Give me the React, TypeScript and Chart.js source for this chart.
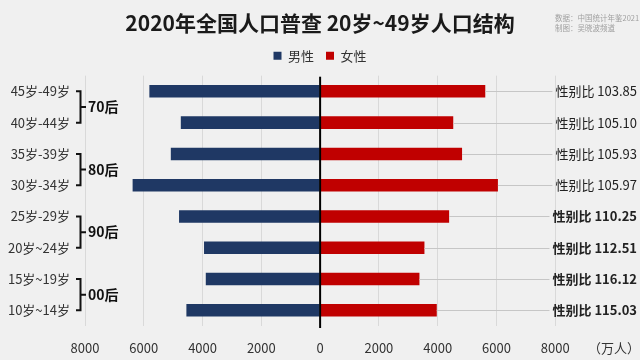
import React, { useEffect, useRef } from 'react';
import { Chart, registerables } from 'chart.js';

Chart.register(...registerables);

const titleText = '2020年全国人口普查 20岁~49岁人口结构';
const sourceLines = ['数据：中国统计年鉴2021', '制图：吴晓波频道'];
const categories = ['45岁-49岁', '40岁-44岁', '35岁-39岁', '30岁-34岁', '25岁-29岁', '20岁~24岁', '15岁~19岁', '10岁~14岁'];
const maleValues = [5810, 4740, 5080, 6380, 4800, 3950, 3890, 4550];
const femaleValues = [5620, 4530, 4830, 6050, 4390, 3550, 3380, 3970];
const sexRatios = ['103.85', '105.10', '105.93', '105.97', '110.25', '112.51', '116.12', '115.03'];
const boldRatioFrom = 4;
const groupLabels = ['70后', '80后', '90后', '00后'];
const seriesNames = ['男性', '女性'];
const xMin = -8000;
const xMax = 10000;
const xStep = 2000;
const unitLabel = '（万人）';

const FONT = '"Noto Sans CJK SC", "Noto Sans", sans-serif';
const BG = '#f0f0f0';
const NAVY = '#1f3864';
const RED = '#c00000';

const decorPlugin = {
  id: 'decor',
  beforeDraw(chart: any) {
    const { ctx, width, height } = chart;
    ctx.save();
    ctx.fillStyle = BG;
    ctx.fillRect(0, 0, width, height);
    ctx.restore();
  },
  afterDatasetsDraw(chart: any) {
    const { ctx, chartArea, scales } = chart;
    const x = scales.x;
    const y = scales.y;
    ctx.save();
    // ratio labels + connectors
    const rightEdge = chart.width - 3;
    sexRatios.forEach((r, i) => {
      const yy = y.getPixelForValue(i);
      const bold = i >= boldRatioFrom;
      ctx.font = `${bold ? 'bold ' : ''}13px ${FONT}`;
      const text = `性别比 ${r}`;
      const w = ctx.measureText(text).width;
      const x0 = x.getPixelForValue(femaleValues[i]);
      ctx.strokeStyle = '#c6c6c6';
      ctx.lineWidth = 1;
      ctx.beginPath();
      ctx.moveTo(x0, Math.round(yy) + 0.5);
      ctx.lineTo(rightEdge - w - 3, Math.round(yy) + 0.5);
      ctx.stroke();
      ctx.fillStyle = '#222';
      ctx.textAlign = 'right';
      ctx.textBaseline = 'middle';
      ctx.fillText(text, rightEdge, yy);
    });
    // zero line
    const zx = x.getPixelForValue(0);
    ctx.strokeStyle = '#000';
    ctx.lineWidth = 2;
    ctx.beginPath();
    ctx.moveTo(zx, chartArea.top + 1);
    ctx.lineTo(zx, chartArea.bottom + 2);
    ctx.stroke();
    // brackets & group labels
    groupLabels.forEach((g, gi) => {
      const yTop = y.getPixelForValue(gi * 2);
      const yBot = y.getPixelForValue(gi * 2 + 1);
      const yMid = (yTop + yBot) / 2;
      const bx = chartArea.left - 4.5;
      ctx.strokeStyle = '#111';
      ctx.lineWidth = 2;
      ctx.beginPath();
      ctx.moveTo(chartArea.left - 9, yTop);
      ctx.lineTo(bx, yTop);
      ctx.lineTo(bx, yBot);
      ctx.lineTo(chartArea.left - 9, yBot);
      ctx.moveTo(bx, yMid);
      ctx.lineTo(chartArea.left + 1, yMid);
      ctx.stroke();
      ctx.fillStyle = '#111';
      ctx.font = `bold 14px ${FONT}`;
      ctx.textAlign = 'left';
      ctx.textBaseline = 'middle';
      ctx.fillText(g, chartArea.left + 3, yMid);
    });
    // source note
    ctx.fillStyle = '#a0a0a0';
    ctx.font = `7.5px ${FONT}`;
    ctx.textAlign = 'left';
    ctx.textBaseline = 'middle';
    sourceLines.forEach((s, i) => ctx.fillText(s, 555, 18 + i * 10));
    ctx.restore();
  },
};

export default function App() {
  const ref = useRef<HTMLCanvasElement | null>(null);
  useEffect(() => {
    if (!ref.current) return;
    const chart = new Chart(ref.current, {
      type: 'bar',
      data: {
        labels: categories,
        datasets: [
          {
            label: seriesNames[0],
            data: maleValues.map((v) => -v),
            backgroundColor: NAVY,
            categoryPercentage: 1,
            barPercentage: 0.4,
          },
          {
            label: seriesNames[1],
            data: femaleValues,
            backgroundColor: RED,
            categoryPercentage: 1,
            barPercentage: 0.4,
          },
        ],
      },
      options: {
        indexAxis: 'y',
        animation: false,
        responsive: true,
        maintainAspectRatio: false,
        layout: { padding: { left: 0, right: 0, top: 0, bottom: 0 } },
        plugins: {
          title: {
            display: true,
            text: titleText,
            color: '#1a1a1a',
            font: { family: FONT, size: 21, weight: 'bold', lineHeight: 1.2 },
            padding: { top: 10, bottom: 2 },
          },
          subtitle: {
            display: true,
            text: '',
            weight: 500,
            font: { size: 1, lineHeight: 1 },
            padding: { top: 0, bottom: 2.5 },
          } as any,
          legend: {
            display: true,
            position: 'top',
            labels: {
              boxWidth: 8,
              boxHeight: 8,
              padding: 12,
              color: '#333',
              font: { family: FONT, size: 13 },
            },
          },
          tooltip: { enabled: false },
        },
        scales: {
          x: {
            type: 'linear',
            stacked: true,
            min: xMin,
            max: xMax,
            border: { display: false },
            grid: {
              drawTicks: false,
              color: (c: any) => (c.tick && (c.tick.value === 0 || c.tick.value === xMax) ? 'rgba(0,0,0,0)' : '#d9d9d9'),
            },
            afterFit: (scale: any) => {
              scale.height = 34;
              scale.paddingRight = 26;
              scale.paddingLeft = 0;
            },
            ticks: {
              stepSize: xStep,
              padding: 14,
              maxRotation: 0,
              minRotation: 0,
              autoSkip: false,
              color: '#333',
              font: { family: FONT, size: 13 },
              callback: (v: any) => (v === xMax ? unitLabel : String(Math.abs(v))),
            },
          },
          y: {
            type: 'category',
            stacked: true,
            border: { display: false },
            grid: { display: false, drawTicks: false },
            afterFit: (scale: any) => {
              scale.width = 85;
            },
            ticks: {
              padding: 15,
              color: '#333',
              font: { family: FONT, size: 13 },
            },
          },
        },
      },
      plugins: [decorPlugin],
    });
    return () => chart.destroy();
  }, []);
  return (
    <div style={{ position: 'fixed', left: 0, top: 0, width: 640, height: 360, background: BG }}>
      <canvas ref={ref} />
    </div>
  );
}
